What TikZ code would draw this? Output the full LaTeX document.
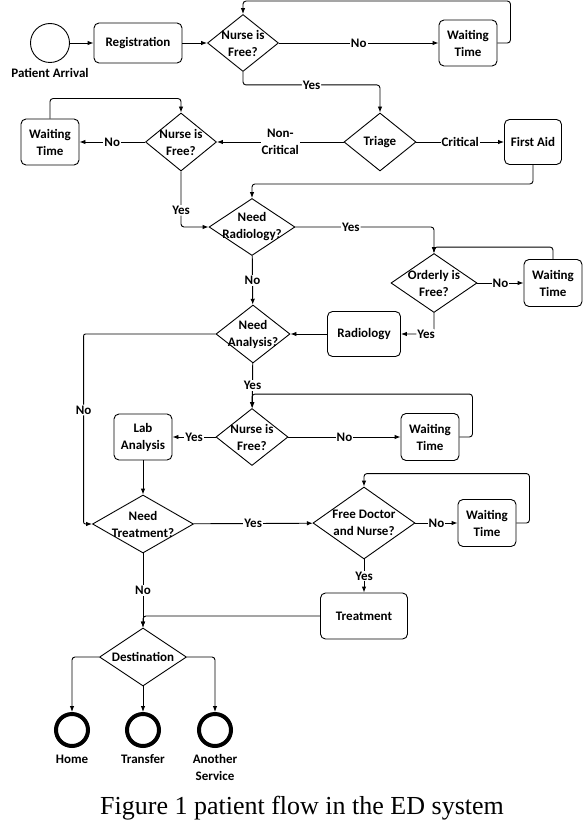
\documentclass[tikz,border=0pt]{standalone}
\usepackage{fontspec}
\setmainfont{Carlito}
\newfontfamily\capfont{Liberation Serif}
\usetikzlibrary{shapes.geometric,arrows.meta}
\begin{document}
\begin{tikzpicture}[x=1pt,y=-1pt,line width=0.9pt,
  >={Latex[length=6pt,width=4.5pt]},
  every node/.style={font=\fontsize{13}{17}\selectfont\bfseries},
  box/.style={draw,rounded corners=5pt,minimum width=58,minimum height=46,align=center,inner sep=1pt},
  dec/.style={draw,diamond,align=center,inner sep=-12pt},
  lbl/.style={fill=white,inner sep=1pt,align=center},
  sink/.style={draw,circle,line width=4pt,minimum size=32},
  flow/.style={->,rounded corners=3pt}]

\useasboundingbox (0,0) rectangle (584,824);

\node[draw,circle,minimum size=39] (start) at (50,43) {};
\node (parr) at (50,73) {Patient Arrival};
\node[box,minimum width=88,minimum height=40] (reg) at (138,43) {Registration};
\node[dec,minimum width=71,minimum height=57] (n1) at (243,43) {Nurse is\\Free?};
\node[box] (w1) at (468,43) {Waiting\\Time};

\node[dec,minimum width=72,minimum height=58] (tri) at (380,142) {Triage};
\node[box,minimum width=57,minimum height=45] (fa) at (533,142) {First Aid};
\node[dec,minimum width=71,minimum height=58] (n2) at (181,142) {Nurse is\\Free?};
\node[box] (w2) at (50,142) {Waiting\\Time};

\node[dec,minimum width=86,minimum height=57] (nr) at (252,227) {Need\\Radiology?};
\node[dec,minimum width=86,minimum height=59] (ord) at (434,283) {Orderly is\\Free?};
\node[box,minimum height=47] (w3) at (553,283) {Waiting\\Time};
\node[dec,minimum width=74,minimum height=58] (na) at (253,334) {Need\\Analysis?};
\node[box,minimum width=73,minimum height=45] (rad) at (364,334) {Radiology};

\node[dec,minimum width=72,minimum height=57] (n3) at (252,437) {Nurse is\\Free?};
\node[box] (lab) at (143,437) {Lab\\Analysis};
\node[box,minimum height=47] (w4) at (430,437) {Waiting\\Time};
\node[dec,minimum width=101,minimum height=58] (nt) at (143,524) {Need\\Treatment?};
\node[dec,minimum width=102,minimum height=72] (fdn) at (364,523) {Free Doctor\\and Nurse?};
\node[box,minimum height=47] (w5) at (487,523) {Waiting\\Time};
\node[box,minimum width=87] (tr) at (364,616) {Treatment};

\node[dec,minimum width=87,minimum height=58] (dest) at (143,657) {Destination};
\node[sink] (e1) at (72,730) {};
\node[sink] (e2) at (143,730) {};
\node[sink] (e3) at (215,730) {};
\node (home) at (72,759) {Home};
\node (trans) at (143,759) {Transfer};
\node[align=center] (anoth) at (215,767) {Another\\Service};

\node[font=\capfont\fontsize{26}{30}\selectfont] (cap) at (302,808) {Figure 1 patient flow in the ED system};

\draw[->] (start) -- (reg);
\draw[->] (reg) -- (n1);
\draw[->] (n1) -- node[lbl] {No} (w1);
\draw[flow] (w1.east) -- ++(13,0) |- ([yshift=13]n1.north) -- (n1.north);
\draw[flow] (n1.south) -- ++(0,13) -| node[lbl,pos=0.25] {Yes} (tri.north);
\draw[->] (tri) -- node[lbl] {Critical} (fa);
\draw[->] (tri) -- node[lbl] {Non-\\Critical} (n2);
\draw[->] (n2) -- node[lbl] {No} (w2);
\draw[flow] (w2.north) -- ++(0,-20) -| (n2.north);
\draw[flow] (n2.south) |- node[lbl,pos=0.35] {Yes} (nr.west);
\draw[flow] (fa.south) -- ++(0,19) -| (nr.north);

\draw[flow] (nr.east) -| node[lbl,pos=0.2] {Yes} (ord.north);
\draw[->] (ord) -- node[lbl] {No} (w3);
\draw[flow] (w3.north) -- ++(0,-12) -| (ord.north);
\draw[flow] (ord.south) |- node[lbl,pos=0.62] {Yes} (rad.east);
\draw[->] (rad) -- (na);
\draw[->] (nr) -- node[lbl] {No} (na);
\draw[->,rounded corners=2pt] (na.west) -- ++(-132,0) |- node[lbl,pos=0.2] {No} (nt.west);

\draw[->] (na) -- node[lbl] {Yes} (n3);
\draw[->] (n3) -- node[lbl] {Yes} (lab);
\draw[->] (n3) -- node[lbl] {No} (w4);
\draw[flow] (w4.east) -- ++(13,0) |- ([yshift=14]n3.north) -- (n3.north);
\draw[->] (lab) -- (nt);
\draw[->] (nt) -- node[lbl] {Yes} (fdn);
\draw[->] (fdn) -- node[lbl] {No} (w5);
\draw[flow] (w5.east) -- ++(13,0) |- ([yshift=13]fdn.north) -- (fdn.north);
\draw[->] (fdn) -- node[lbl] {Yes} (tr);

\draw[->] (nt) -- node[lbl] {No} (dest);
\draw[flow] (tr.west) -| (dest.north);
\draw[flow] (dest.west) -| (e1);
\draw[->] (dest) -- (e2);
\draw[flow] (dest.east) -| (e3);

\end{tikzpicture}
\end{document}
